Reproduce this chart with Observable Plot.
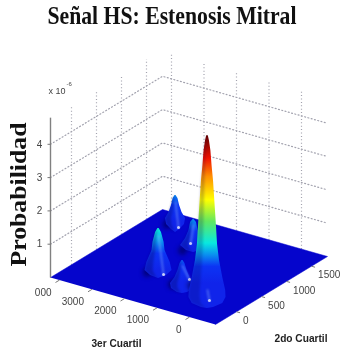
<!DOCTYPE html>
<html><head><meta charset="utf-8">
<script src="https://cdn.jsdelivr.net/npm/d3@7"></script>
<script src="https://cdn.jsdelivr.net/npm/@observablehq/plot@0.6"></script>
<style>html,body{margin:0;padding:0;background:#fff}svg{display:block;filter:blur(.45px)}</style>
</head><body><div id="chart"></div>
<script>
// Axis values
const q3Ticks = [0, 1000, 2000, 3000, 4000];
const q3Labels = ["0", "1000", "2000", "3000", "000"];
const q2Ticks = [0, 500, 1000, 1500];
const zTicks = [1, 2, 3, 4];
const q3Range = [-800, 4277];
const q2Range = [-420, 1820];
const zTop = 4.8;

// Jet-like colour ramp read from the tall peak
const floorColor = "#0505cc";
const rampZ = [0, 0.5, 0.85, 1.2, 1.85, 2.5, 3.2, 3.75, 4.44];
const rampColors = ["#1024ea", "#0c34f4", "#0a90f0", "#08e8e0", "#60e860", "#ffff00", "#ff9000", "#f01000", "#600000"];

// Peaks, back to front: position, silhouette (height, half spread)
const backQ3 = 3556, backQ2 = 1612;
const backZ = [0.81, 0.72, 0.51, 0.30, 0.12, -0.06, -0.21, -0.30];
const backSpread = [15, 75, 125, 200, 310, 275, 125, 0];
const midQ3 = 2282, midQ2 = 1144;
const midZ = [0.87, 0.78, 0.54, 0.30, 0.09, -0.06, -0.12];
const midSpread = [15, 90, 140, 245, 400, 215, 0];
const leftQ3 = 2256, leftQ2 = 427;
const leftZ = [1.26, 1.14, 0.85, 0.60, 0.24, 0, -0.15, -0.24];
const leftSpread = [20, 90, 170, 200, 360, 415, 245, 0];
const frontQ3 = 1340, frontQ2 = 311;
const frontZ = [0.66, 0.57, 0.36, 0.15, -0.03, -0.18, -0.30, -0.33];
const frontSpread = [15, 75, 140, 230, 370, 340, 155, 0];
const mainQ3 = 782, mainQ2 = 448;
const mainZ = [4.44, 4.29, 3.99, 3.54, 3.09, 2.64, 2.19, 1.74, 1.17, 0.69, 0.18, -0.21, -0.42, -0.60, -0.72, -0.75];
const mainSpread = [25, 60, 105, 140, 185, 215, 245, 275, 310, 370, 470, 560, 570, 470, 185, 0];
// Specular streaks: top of streak, spot height, spot side offset
const streaks = [
  {id: "back", q3: backQ3, q2: backQ2, top: 0.6, spotZ: -0.15, spot: 92},
  {id: "mid", q3: midQ3, q2: midQ2, top: 0.7, spotZ: 0.15, spot: -92},
  {id: "left", q3: leftQ3, q2: leftQ2, top: 1.05, spotZ: -0.12, spot: 154},
  {id: "front", q3: frontQ3, q2: frontQ2, top: 0.5, spotZ: 0.09, spot: 215},
  {id: "main", q3: mainQ3, q2: mainQ2, top: -0.2, spotZ: -0.51, spot: 60}
];

const peaks = [
  {id: "back", q3: backQ3, q2: backQ2, zs: backZ, sp: backSpread},
  {id: "mid", q3: midQ3, q2: midQ2, zs: midZ, sp: midSpread},
  {id: "left", q3: leftQ3, q2: leftQ2, zs: leftZ, sp: leftSpread},
  {id: "front", q3: frontQ3, q2: frontQ2, zs: frontZ, sp: frontSpread},
  {id: "main", q3: mainQ3, q2: mainQ2, zs: mainZ, sp: mainSpread}
];

// 3D view: floor corners and vertical unit on the picture plane
const frontCorner = [215, 324], leftCorner = [50, 277], rightCorner = [327, 256];
const zUnit = 33.3, spreadUnit = 0.0325;
function project(q3, q2, z = 0) {
  const u = (q3 - q3Range[0]) / (q3Range[1] - q3Range[0]);
  const v = (q2 - q2Range[0]) / (q2Range[1] - q2Range[0]);
  return {
    x: frontCorner[0] + u * (leftCorner[0] - frontCorner[0]) + v * (rightCorner[0] - frontCorner[0]),
    y: frontCorner[1] + u * (leftCorner[1] - frontCorner[1]) + v * (rightCorner[1] - frontCorner[1]) - z * zUnit
  };
}
const [q30, q31] = q3Range, [q20, q21] = q2Range;
const floor = [project(q31, q20), project(q31, q21), project(q30, q21), project(q30, q20)];
const grid = {stroke: "#a2a2ae", strokeWidth: 1.2, strokeDasharray: "1,2.4"};

const seg = (a, b) => ({x1: a.x, y1: a.y, x2: b.x, y2: b.y});
const wallLevels = zTicks.map(z => [project(q31, q20, z), project(q31, q21, z), project(q30, q21, z)]);
const verticals = [
  ...q2Ticks.map(q => seg(project(q31, q, 0), project(q31, q, zTop))),
  ...q3Ticks.map(q => seg(project(q, q21, 0), project(q, q21, zTop)))
];
const q3Marks = q3Ticks.map((q, i) => ({...seg(project(q, q20), project(q, q20 - 80)), label: q3Labels[i]}));
const q2Marks = q2Ticks.map(q => ({...seg(project(q30, q), project(q30 - 110, q)), label: String(q)}));
const zMarks = zTicks.map(z => ({...project(q31, q20, z), label: String(z)}));

const colorOf = d3.scaleLinear().domain(rampZ).range(rampColors).clamp(true);

const peakRows = p => p.zs.map((z, i) => {
  const c = project(p.q3, p.q2, z), w = p.sp[i] * spreadUnit;
  return {y: c.y, l: c.x - w, r: c.x + w, inner: c.x - w * 0.4};
});
const peakMarks = peaks.flatMap(p => {
  const rows = peakRows(p);
  const s = streaks.find(d => d.id === p.id);
  const base = project(p.q3, p.q2, 0);
  const baseW = d3.max(p.sp) * spreadUnit;
  const spot = project(p.q3, p.q2, s.spotZ); spot.x += s.spot * spreadUnit;
  const head = project(p.q3, p.q2, s.top);
  return [
    Plot.dot([{x: base.x - baseW * 0.85, y: base.y + 2}], {x: "x", y: "y", r: 4.5, fill: "#000050", fillOpacity: 0.6, imageFilter: "blur(2px)"}),
    Plot.area(rows, {x1: "l", x2: "r", y1: "y", y2: "y", fill: `url(#grad-${p.id})`, curve: "linear"}),
    Plot.area(rows, {x1: "l", x2: "inner", y1: "y", y2: "y", fill: "#000050", fillOpacity: p.id === "main" ? 0.2 : 0.28, curve: "linear", imageFilter: "blur(1.2px)"}),
    Plot.line([head, spot], {x: "x", y: "y", stroke: "#a8d0ff", strokeOpacity: 0.4, strokeWidth: 1.8, imageFilter: "blur(1px)"}),
    Plot.dot([spot], {x: "x", y: "y", r: 1.5, fill: "#ffffff", fillOpacity: 0.75, imageFilter: "blur(.5px)"})
  ];
});

const tickText = {fontFamily: "Liberation Sans", fontSize: 10, fill: "#444"};
const corner = project(q31, q20, zTop);
const plot = Plot.plot({
  width: 347, height: 357, margin: 0,
  x: {domain: [0, 347], range: [0, 347], axis: null},
  y: {domain: [0, 357], range: [0, 357], axis: null},
  marks: [
    ...wallLevels.map(l => Plot.line(l, {x: "x", y: "y", ...grid})),
    Plot.link(verticals, {x1: "x1", y1: "y1", x2: "x2", y2: "y2", ...grid}),
    Plot.line(floor, {x: "x", y: "y", fill: floorColor, stroke: floorColor, strokeWidth: 0.5}),
    Plot.link([seg(project(q31, q20), corner)], {x1: "x1", y1: "y1", x2: "x2", y2: "y2", stroke: "#808080", strokeWidth: 1.4}),
    Plot.link(zMarks, {x1: d => d.x - 3, x2: "x", y1: "y", y2: "y", stroke: "#777"}),
    Plot.link(q3Marks, {x1: "x1", y1: "y1", x2: "x2", y2: "y2", stroke: "#777"}),
    Plot.link(q2Marks, {x1: "x1", y1: "y1", x2: "x2", y2: "y2", stroke: "#777"}),
    Plot.text(zMarks, {x: "x", y: "y", text: "label", dx: -11, ...tickText}),
    Plot.text(q3Marks, {x: "x2", y: "y2", text: "label", dx: -4, dy: 10, textAnchor: "end", ...tickText}),
    Plot.text(q2Marks, {x: "x2", y: "y2", text: "label", dx: 3, dy: 8, textAnchor: "start", ...tickText}),
    Plot.text(["x 10"], {x: () => corner.x, y: () => corner.y, dx: -2, dy: -27, textAnchor: "start", ...tickText, fontSize: 9}),
    Plot.text(["-6"], {x: () => corner.x, y: () => corner.y, dx: 16, dy: -34, textAnchor: "start", ...tickText, fontSize: 6}),
    ...peakMarks,
    Plot.text(["Señal HS: Estenosis Mitral"], {frameAnchor: "top-left", dx: 47, dy: 6, textAnchor: "start", lineAnchor: "top", fontFamily: "Liberation Serif", fontWeight: "bold", fontSize: 25, fill: "#111"}),
    Plot.text(["Probabilidad"], {frameAnchor: "top-left", dx: 25, dy: 194, rotate: -90, textAnchor: "middle", lineAnchor: "bottom", fontFamily: "Liberation Serif", fontWeight: "bold", fontSize: 23, fill: "#111"}),
    Plot.text(["3er Cuartil"], {frameAnchor: "top-left", dx: 91, dy: 343, textAnchor: "start", lineAnchor: "middle", fontFamily: "Liberation Sans", fontWeight: "bold", fontSize: 11, fill: "#222"}),
    Plot.text(["2do Cuartil"], {frameAnchor: "top-left", dx: 274, dy: 338, textAnchor: "start", lineAnchor: "middle", fontFamily: "Liberation Sans", fontWeight: "bold", fontSize: 11, fill: "#222"})
  ]
});

// Colour ramps for the peak fills
const svg = d3.select(plot);
const defs = svg.insert("defs", ":first-child");
peaks.forEach(p => {
  const top = p.zs[0], bottom = p.zs[p.zs.length - 1];
  const g = defs.append("linearGradient").attr("id", `grad-${p.id}`).attr("x1", 0).attr("x2", 0).attr("y1", 0).attr("y2", 1);
  const stops = [top, ...rampZ.filter(z => z < top).reverse(), bottom];
  stops.forEach(z => g.append("stop").attr("offset", (top - z) / (top - bottom)).attr("stop-color", colorOf(z)));
});
const fit = {"Señal HS: Estenosis Mitral": 249, "Probabilidad": 144, "3er Cuartil": 50, "2do Cuartil": 53};
svg.selectAll("text").each(function() {
  const w = fit[this.textContent];
  if (w) { this.setAttribute("textLength", w); this.setAttribute("lengthAdjust", "spacingAndGlyphs"); }
});
document.getElementById("chart").append(plot);
</script></body></html>
